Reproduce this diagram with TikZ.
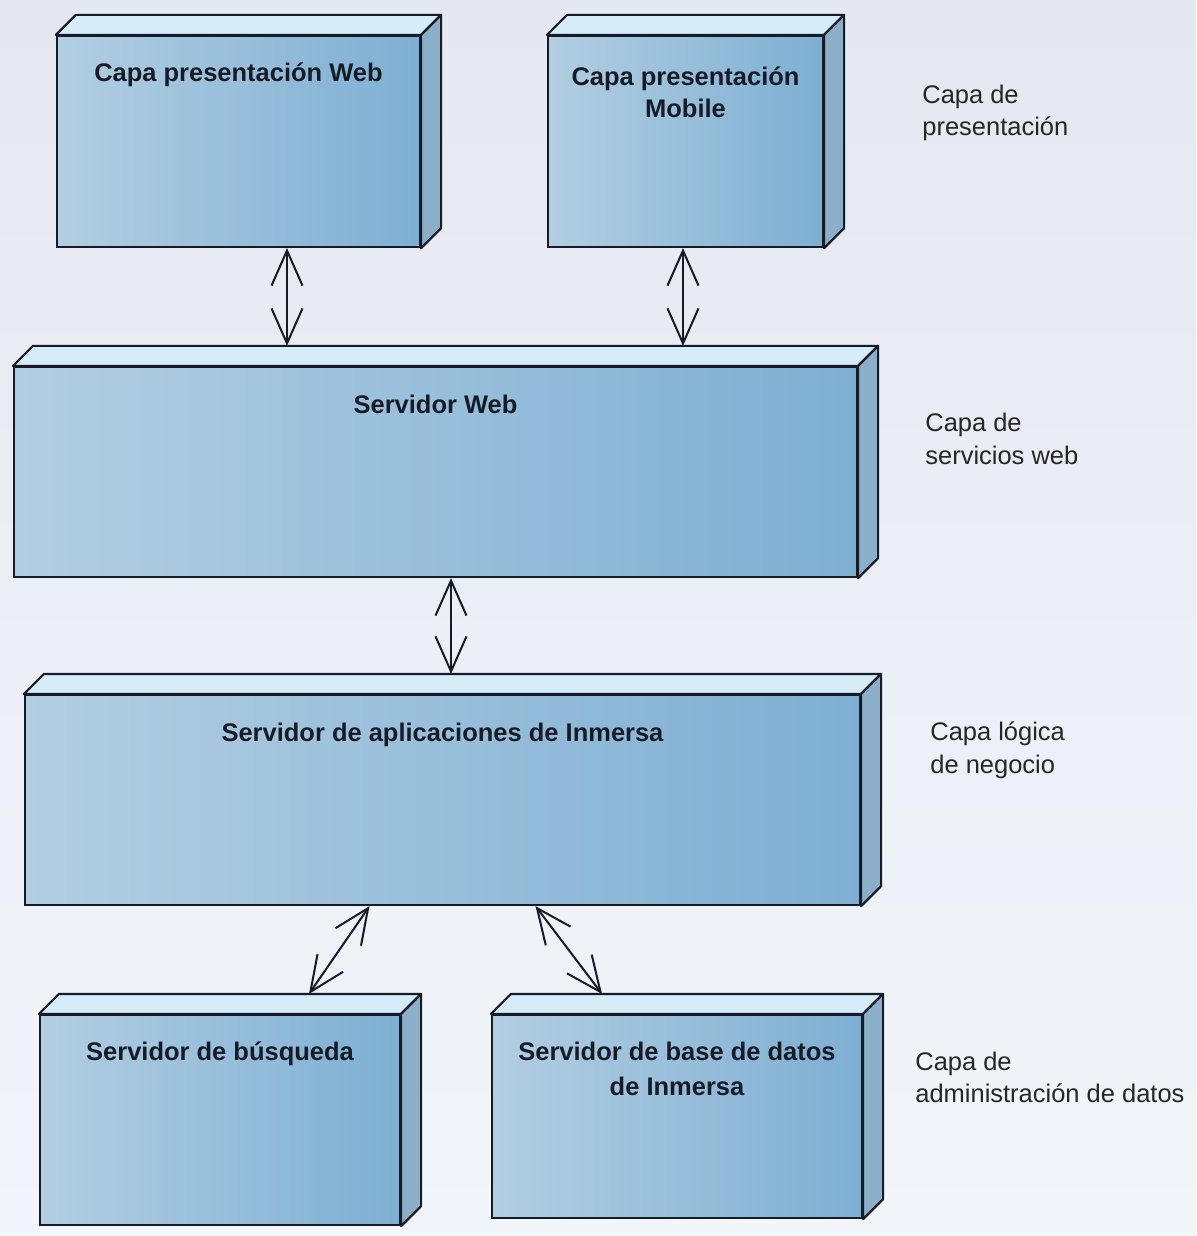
\documentclass[tikz,border=0pt]{standalone}
\usepackage{fontspec}
\setmainfont{Liberation Sans}
\usetikzlibrary{arrows.meta,positioning,calc}
\definecolor{pbgtop}{HTML}{E5E8F1}
\definecolor{pbgbot}{HTML}{F2F5F9}
\definecolor{pfrontl}{HTML}{B2CEE2}
\definecolor{pfrontr}{HTML}{7EAFD3}
\definecolor{ptop}{HTML}{D5EDF9}
\definecolor{pside}{HTML}{8BAFC8}
\definecolor{pline}{HTML}{161B26}

\begin{document}
\begin{tikzpicture}[
  font=\fontsize{14.5pt}{18.6pt}\selectfont,
  nodebox/.style={draw=pline,line width=1.25pt,left color=pfrontl,right color=pfrontr,
                  inner sep=0pt},
  topface/.style={draw=pline,line width=1.25pt,line join=round,fill=ptop},
  sideface/.style={draw=pline,line width=1.25pt,line join=round,fill=pside},
  ttl/.style={font=\fontsize{14.5pt}{18pt}\selectfont\bfseries,text=pline,
              align=center,inner sep=0pt},
  lay/.style={anchor=west,align=left,text=black!85,inner sep=0pt},
  ar/.style={{Straight Barb[length=0.7cm,width=0.62cm]}-{Straight Barb[length=0.7cm,width=0.62cm]},
             line width=1.15pt,draw=pline}]

% ---- canvas ---------------------------------------------------------------
\shade[top color=pbgtop,bottom color=pbgbot] (0,0) rectangle (23.92,-24.72);
\useasboundingbox (0,0) rectangle (23.92,-24.72);

% ---- nodes (front faces) --------------------------------------------------
\node[nodebox,minimum width=7.26cm,minimum height=4.22cm] (web) at (4.77,-2.83) {};
\node[nodebox,minimum width=5.50cm,minimum height=4.22cm] (mob) at (13.71,-2.83) {};
\node[nodebox,minimum width=16.86cm,minimum height=4.20cm] (srv) at (8.71,-9.44) {};
\node[nodebox,minimum width=16.70cm,minimum height=4.20cm] (app) at (8.85,-16.00) {};
\node[nodebox,minimum width=7.20cm,minimum height=4.20cm] (bus) at (4.40,-22.40) {};
\node[nodebox,minimum width=7.40cm,minimum height=4.06cm] (bd) at (13.54,-22.33) {};

% the 3D top and side of every node, 0.4 cm deep
\foreach \n in {web,mob,srv,app,bus,bd}{
  \filldraw[topface] (\n.north west) -- ++(0.4,0.4)
    -- ($(\n.north east)+(0.4,0.4)$) -- (\n.north east) -- cycle;
  \filldraw[sideface] (\n.north east) -- ++(0.4,0.4)
    -- ($(\n.south east)+(0.4,0.4)$) -- (\n.south east) -- cycle;
}

% ---- titles ---------------------------------------------------------------
\node[ttl,below=0.56cm of web.north] {Capa presentación Web};
\node[ttl,below=0.64cm of mob.north] {Capa presentación\\Mobile};
\node[ttl,below=0.58cm of srv.north] {Servidor Web};
\node[ttl,below=0.58cm of app.north] {Servidor de aplicaciones de Inmersa};
\node[ttl,below=0.56cm of bus.north] {Servidor de búsqueda};
\node[ttl,below=0.56cm of bd.north,font=\fontsize{14.5pt}{19.6pt}\selectfont\bfseries]
  {Servidor de base de datos\\de Inmersa};

% ---- layer names ----------------------------------------------------------
\node[lay] (l1) at (18.44,-2.26)  {Capa de\\presentación};
\node[lay] (l2) at (18.50,-8.78)  {Capa de\\servicios web};
\node[lay] (l3) at (18.60,-15.00) {Capa lógica\\de negocio};
\node[lay] (l4) at (18.30,-21.55) {Capa de\\administración de datos};

% ---- connectors: they end on the back edge of the lower box ---------------
\draw[ar] ($(web.south)+(0.97,0)$) -- ($(web.south |- srv.north)+(0.97,0.4)$);
\draw[ar] ($(mob.south)+(-0.05,0)$) -- ($(mob.south |- srv.north)+(-0.05,0.4)$);
\draw[ar] ($(srv.south)+(0.31,0)$) -- ($(srv.south |- app.north)+(0.31,0.4)$);
\draw[ar] ($(app.south)+(-1.46,0)$) -- ($(bus.north)+(1.78,0.4)$);
\draw[ar] ($(app.south)+(1.86,0)$) -- ($(bd.north)+(-1.50,0.4)$);
\end{tikzpicture}
\end{document}
